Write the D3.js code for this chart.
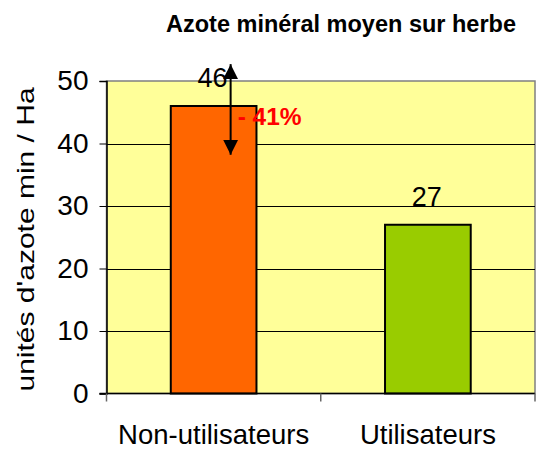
<!DOCTYPE html>
<html>
<head>
<meta charset="utf-8">
<script src="https://cdn.jsdelivr.net/npm/d3@7"></script>
<style>
  body { margin: 0; background: #fff; }
  svg { display: block; font-family: "Liberation Sans", Arial, sans-serif; }
</style>
</head>
<body>
<div class="container"></div>
<script>
// data
var categories = ["Non-utilisateurs", "Utilisateurs"];
var values = [46, 27];
var barColors = ["#FF6600", "#99CC00"];
var yTicks = [0, 10, 20, 30, 40, 50];
var arrowFrom = 52.7;   // arrow top tip (axis units)
var arrowTo = 38.2;     // arrow bottom tip
var changeLabel = "- 41%";

var svgWidth = 538;
var svgHeight = 453;
var plot = { left: 106.5, right: 535, top: 81, bottom: 393.5 };

var svg = d3.select(".container")
    .append("svg")
    .attr("width", svgWidth)
    .attr("height", svgHeight);

var xBand = d3.scaleBand()
    .domain(categories)
    .range([plot.left, plot.right])
    .paddingInner(0.6)
    .paddingOuter(0.3);

var yLinear = d3.scaleLinear()
    .domain([0, 50])
    .range([plot.bottom, plot.top]);

// title
svg.append("text")
    .attr("x", 341)
    .attr("y", 32)
    .attr("text-anchor", "middle")
    .attr("font-size", "23.5px")
    .attr("font-weight", "bold")
    .text("Azote minéral moyen sur herbe");

// plot background
svg.append("rect")
    .attr("x", plot.left)
    .attr("y", plot.top)
    .attr("width", plot.right - plot.left)
    .attr("height", plot.bottom - plot.top)
    .attr("fill", "#FFFF99")
    .attr("stroke", "#808080")
    .attr("stroke-width", 1.5);

// gridlines
svg.append("g")
    .selectAll("line")
    .data(yTicks.filter(function (d) { return d > 0 && d < 50; }))
    .enter()
    .append("line")
    .attr("x1", plot.left)
    .attr("x2", plot.right)
    .attr("y1", function (d) { return Math.round(yLinear(d)) + 0.5; })
    .attr("y2", function (d) { return Math.round(yLinear(d)) + 0.5; })
    .attr("stroke", "#000")
    .attr("stroke-width", 1);

// bars
svg.append("g")
    .selectAll("rect")
    .data(values)
    .enter()
    .append("rect")
    .attr("x", function (d, i) { return xBand(categories[i]); })
    .attr("y", function (d) { return yLinear(d); })
    .attr("width", xBand.bandwidth())
    .attr("height", function (d) { return yLinear(0) - yLinear(d); })
    .attr("fill", function (d, i) { return barColors[i]; })
    .attr("stroke", "#000")
    .attr("stroke-width", 2);

// left axis
var leftAxis = d3.axisLeft(yLinear)
    .tickValues(yTicks)
    .tickSize(7)
    .tickPadding(11);

var yAxisG = svg.append("g")
    .attr("transform", "translate(" + plot.left + ",0)")
    .call(leftAxis);
yAxisG.select(".domain").attr("stroke", "#000").attr("stroke-width", 1.5);
yAxisG.selectAll(".tick line").attr("stroke", "#000");
yAxisG.selectAll(".tick text")
    .attr("font-size", "28px")
    .attr("font-family", "Liberation Sans, Arial, sans-serif")
    .attr("fill", "#000");

// bottom axis: labels centred on bands, ticks between categories
var bottomAxis = d3.axisBottom(xBand).tickSize(0).tickPadding(0);
var xAxisG = svg.append("g")
    .attr("transform", "translate(0," + plot.bottom + ")")
    .call(bottomAxis);
xAxisG.select(".domain").remove();
xAxisG.selectAll(".tick text")
    .attr("y", 50.5)
    .attr("dy", 0)
    .attr("font-size", "27.5px")
    .attr("font-family", "Liberation Sans, Arial, sans-serif")
    .attr("fill", "#000");

var boundaries = categories.map(function (c) {
    return xBand(c) - xBand.step() * xBand.paddingOuter();
});
boundaries.push(plot.right);

svg.append("line")
    .attr("x1", plot.left - 7)
    .attr("x2", plot.right)
    .attr("y1", plot.bottom)
    .attr("y2", plot.bottom)
    .attr("stroke", "#000")
    .attr("stroke-width", 1.5);

svg.append("g")
    .selectAll("line")
    .data(boundaries)
    .enter()
    .append("line")
    .attr("x1", function (d) { return d; })
    .attr("x2", function (d) { return d; })
    .attr("y1", plot.bottom)
    .attr("y2", plot.bottom + 8)
    .attr("stroke", "#666")
    .attr("stroke-width", 1.5);

// y axis title (stretched along its length like the original)
svg.append("text")
    .attr("transform", "translate(34,239.5) rotate(-90) scale(1.25,1)")
    .attr("text-anchor", "middle")
    .attr("font-size", "24px")
    .text("unités d'azote min / Ha");

// value labels
svg.append("g")
    .selectAll("text")
    .data(values)
    .enter()
    .append("text")
    .attr("x", function (d, i) { return xBand(categories[i]) + xBand.bandwidth() / 2 - 1; })
    .attr("y", function (d) { return yLinear(d) - 19; })
    .attr("text-anchor", "middle")
    .attr("font-size", "27px")
    .text(function (d) { return d; });

// double arrow and change label
var defs = svg.append("defs");
defs.append("marker")
    .attr("id", "head")
    .attr("viewBox", "0 0 10 10")
    .attr("refX", 10)
    .attr("refY", 5)
    .attr("markerUnits", "userSpaceOnUse")
    .attr("markerWidth", 15)
    .attr("markerHeight", 15)
    .attr("orient", "auto-start-reverse")
    .append("path")
    .attr("d", "M0,0 L10,5 L0,10 Z")
    .attr("fill", "#000");

var arrowX = xBand(categories[0]) + xBand.bandwidth() / 2 + 17;
svg.append("line")
    .attr("x1", arrowX)
    .attr("x2", arrowX)
    .attr("y1", yLinear(arrowFrom))
    .attr("y2", yLinear(arrowTo))
    .attr("stroke", "#000")
    .attr("stroke-width", 2)
    .attr("marker-start", "url(#head)")
    .attr("marker-end", "url(#head)");

svg.append("text")
    .attr("x", arrowX + 7)
    .attr("y", 125)
    .attr("font-size", "24.5px")
    .attr("font-weight", "bold")
    .attr("fill", "#FF0000")
    .text(changeLabel);
</script>
</body>
</html>
